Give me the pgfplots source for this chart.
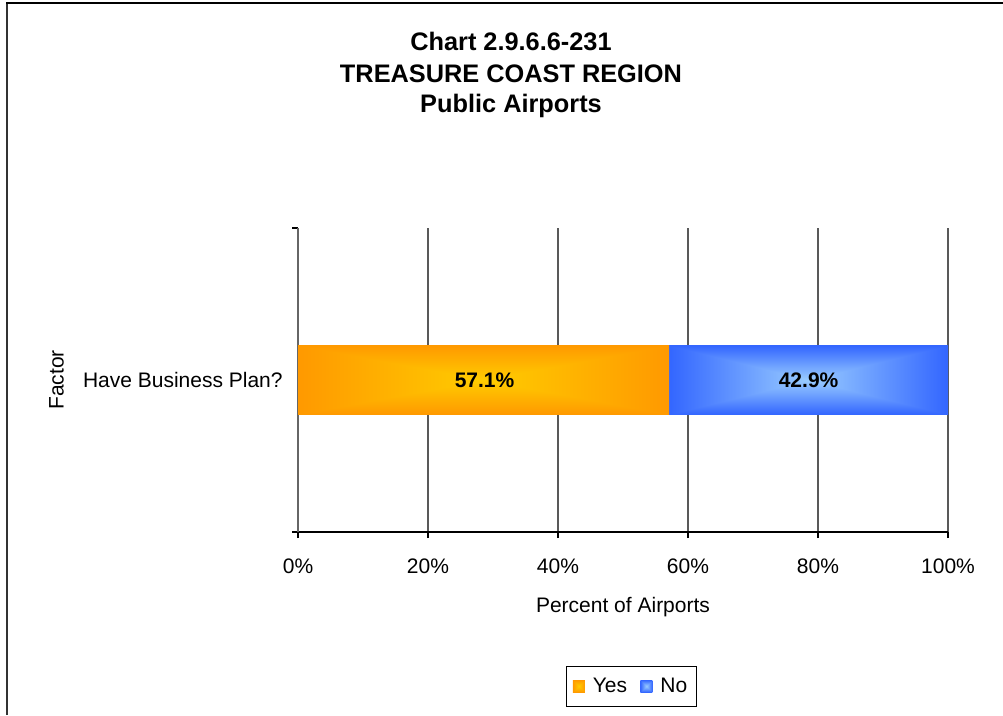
\documentclass[border=0pt]{standalone}
\usepackage{pgfplots}
\pgfplotsset{compat=1.18}
\usepackage{fontspec}
\setmainfont{Liberation Sans}

% rectangular gradients, light in the middle of each bar, darker at its edges
\pgfdeclarefunctionalshading{orangebar}{\pgfpoint{0bp}{0bp}}{\pgfpoint{100bp}{100bp}}{}{
  50 sub abs 25 div exch 50 sub abs 25 div
  2 copy lt {exch} if pop
  dup 1 gt {pop 1} if
  0.2 mul 0.8 exch sub 1 exch 0
}
\pgfdeclarefunctionalshading{bluebar}{\pgfpoint{0bp}{0bp}}{\pgfpoint{100bp}{100bp}}{}{
  50 sub abs 25 div exch 50 sub abs 25 div
  2 copy lt {exch} if pop
  dup 1 gt {pop 1} if
  dup 0.4 mul 0.6 exch sub exch 0.4 mul 0.8 exch sub 1
}

\newcommand\chartfont{\fontsize{15.75}{19}\selectfont}

\begin{document}
\begin{tikzpicture}
\path[use as bounding box] (0,0) rectangle (752.25pt,536.25pt);
% frame
\draw[line width=1.5pt, black!80] (5.25pt,0) -- (5.25pt,534pt);
\draw[line width=1.5pt] (4.5pt,534pt) -- (752.25pt,534pt);

% title
\begin{scope}[every node/.style={font=\fontsize{19}{23}\selectfont\bfseries}]
  \node at (383.25pt,505pt) {Chart 2.9.6.6-231};
  \node at (383.25pt,481pt) {TREASURE COAST REGION};
  \node at (383.25pt,457pt) {Public Airports};
\end{scope}

\begin{axis}[
    at={(223.5pt,137.25pt)}, anchor=south west,
    scale only axis,
    width=487.5pt, height=228pt,
    xbar stacked,
    bar width=51.75pt,
    xmin=0, xmax=100,
    ymin=-0.5, ymax=0.5,
    axis x line*=bottom,
    axis y line*=left,
    x axis line style={-, black, line width=0.8pt},
    y axis line style={-, black!60, line width=1pt},
    xtick={0,20,...,100},
    xticklabel={\pgfmathprintnumber{\tick}\%},
    xmajorgrids,
    major grid style={black!65, line width=0.8pt},
    tick align=outside,
    major tick length=4.5pt,
    tick style={black, line width=0.8pt},
    ytick={-0.5,0.5},
    yticklabels={},
    extra y ticks={0},
    extra y tick labels={Have Business Plan?},
    extra y tick style={major tick length=0pt},
    /pgf/number format/assume math mode=true,
    tick label style={font=\chartfont},
    label style={font=\chartfont},
    xticklabel style={yshift=-12pt},
    yticklabel style={xshift=-8pt},
    xlabel={Percent of Airports},
    xlabel style={yshift=-11pt},
    ylabel={Factor},
    ylabel style={yshift=3pt},
    legend columns=2,
    legend style={at={(0.513,-0.507)}, anchor=center, draw=black, line width=0.6pt,
      font=\chartfont, inner xsep=5pt, inner ysep=7pt,
      /tikz/every odd column/.append style={column sep=4pt},
      /tikz/every even column/.append style={column sep=8pt}},
    legend image code/.code={\path[#1, draw=none] (0pt,-4.5pt) rectangle (9pt,4.5pt);},
    after end axis/.code={
      \node[font=\chartfont\bfseries] at (axis cs:28.7,0) {57.1\%};
      \node[font=\chartfont\bfseries] at (axis cs:78.55,0) {42.9\%};
    },
  ]
  \addplot[draw=none, shade, shading=orangebar] coordinates {(57.1,0)};
  \addplot[draw=none, shade, shading=bluebar] coordinates {(42.9,0)};
  \legend{Yes, No}
\end{axis}
\end{tikzpicture}
\end{document}
